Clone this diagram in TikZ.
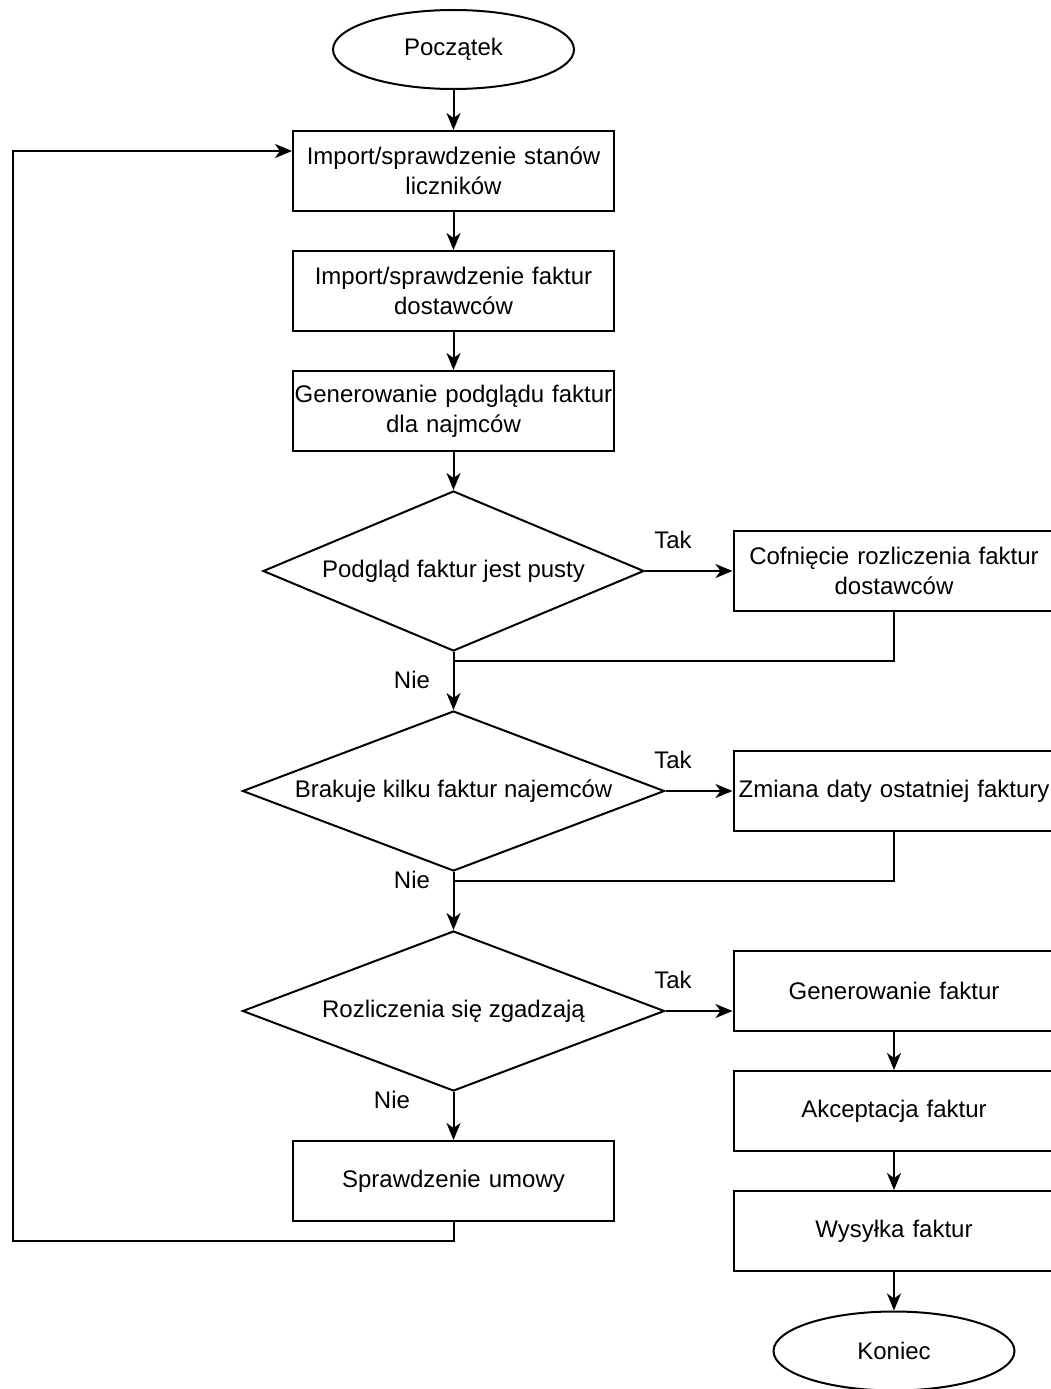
\documentclass[tikz,border=0pt]{standalone}
\usepackage{fontspec}
\setmainfont{Liberation Sans}
\usetikzlibrary{arrows.meta,shapes.geometric}

\begin{document}
\begin{tikzpicture}[x=1pt,y=-1pt,line width=2pt,
    font=\fontsize{24}{30}\selectfont,
    arr/.style={-{Stealth[length=17pt,width=14pt,inset=5pt]}},
    krok/.style={draw,rectangle,minimum width=321pt,minimum height=80pt,
                 text width=318pt,align=center,inner sep=0pt},
    decyzja/.style={draw,diamond,aspect=2.4,inner sep=0pt,minimum height=160pt},
    terminal/.style={draw,ellipse,minimum width=241pt,minimum height=79pt}]
  \useasboundingbox (0,0) rectangle (1050,1389);
  \def\xl{453.5} \def\xr{894}

  % main column
  \node[terminal] (start) at (\xl,49.5) {Początek};
  \node[krok] (imp1) at (\xl,171) {Import/sprawdzenie stanów\\liczników};
  \node[krok] (imp2) at (\xl,291) {Import/sprawdzenie faktur\\dostawców};
  \node[krok] (podgl) at (\xl,411) {Generowanie podglądu faktur\\dla najmców};
  \node[decyzja,minimum width=381pt] (pusty) at (\xl,571) {Podgląd faktur jest pusty};
  \node[decyzja,minimum width=422pt] (brak) at (\xl,791) {Brakuje kilku faktur najemców};
  \node[decyzja,minimum width=422pt] (zgodne) at (\xl,1011) {Rozliczenia się zgadzają};
  \node[krok] (umowa) at (\xl,1181) {Sprawdzenie umowy};

  % right column
  \node[krok] (cofn) at (\xr,571) {Cofnięcie rozliczenia faktur\\dostawców};
  \node[krok] (zmiana) at (\xr,791) {Zmiana daty ostatniej faktury};
  \node[krok] (genf) at (\xr,991) {Generowanie faktur};
  \node[krok] (akc) at (\xr,1111) {Akceptacja faktur};
  \node[krok] (wys) at (\xr,1231) {Wysyłka faktur};
  \node[terminal] (koniec) at (\xr,1351) {Koniec};

  % labels
  \node (tak1) at (673,540) {Tak};
  \node (tak2) at (673,760) {Tak};
  \node (tak3) at (673,980) {Tak};
  \node (nie1) at (412,680) {Nie};
  \node (nie2) at (412,880) {Nie};
  \node (nie3) at (392,1100) {Nie};

  \coordinate (j1) at (\xl,661);
  \coordinate (j2) at (\xl,881);
  \coordinate (petla) at (13,1241);
  \coordinate (wejscie) at ([yshift=20pt]imp1.west);

  \draw[arr] (start) -- (imp1);
  \draw[arr] (imp1) -- (imp2);
  \draw[arr] (imp2) -- (podgl);
  \draw[arr] (podgl) -- (pusty);
  \draw[arr] (pusty) -- (brak);
  \draw[arr] (brak) -- (zgodne);
  \draw[arr] (zgodne) -- (umowa);
  \draw[arr] (pusty.east) -- (cofn.west);
  \draw[arr] (brak.east) -- (zmiana.west);
  \draw[arr] (zgodne.east) -- (zgodne.east -| genf.west);
  \draw (cofn.south) |- (j1);
  \draw (zmiana.south) |- (j2);
  \draw[arr] (genf) -- (akc);
  \draw[arr] (akc) -- (wys);
  \draw[arr] (wys) -- (koniec);
  % back to the start
  \draw[arr] (umowa.south) |- (petla) |- (wejscie);
\end{tikzpicture}
\end{document}
